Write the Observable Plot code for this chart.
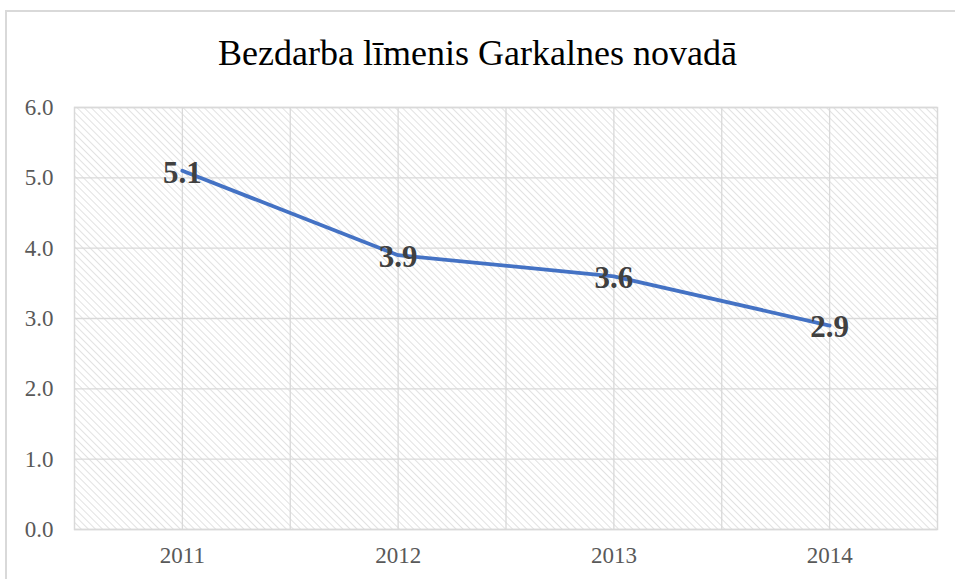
<!DOCTYPE html>
<html>
<head>
<meta charset="utf-8">
<script src="https://cdn.jsdelivr.net/npm/d3@7"></script>
<script src="https://cdn.jsdelivr.net/npm/@observablehq/plot@0.6"></script>
<style>
  html, body { margin: 0; padding: 0; background: #fff; overflow: hidden; }
  #wrap { position: relative; width: 955px; height: 579px; overflow: hidden; }
  #border { position: absolute; left: 5px; top: 10px; width: 2000px; height: 2000px;
            border-left: 2px solid #d9d9d9; border-top: 2px solid #d9d9d9; box-sizing: border-box; }
  #title { position: absolute; left: 0; top: 35px; width: 955px; text-align: center;
           font-family: "Liberation Serif", "Times New Roman", serif; font-size: 36px;
           line-height: 36px; color: #000; }
  #chart { position: absolute; left: 0; top: 95px; }
</style>
</head>
<body>
<div id="wrap">
  <div id="border"></div>
  <div id="title">Bezdarba līmenis Garkalnes novadā</div>
  <div id="chart"></div>
</div>
<script>
const years = [2011, 2012, 2013, 2014];
const rates = [5.1, 3.9, 3.6, 2.9];
const yTicks = [0, 1, 2, 3, 4, 5, 6];

const data = years.map((y, i) => ({year: y, rate: rates[i]}));
const xGrid = years.flatMap((y, i) => i < years.length - 1 ? [y, y + 0.5] : [y]);
const serif = "'Liberation Serif', 'Times New Roman', serif";

const chart = Plot.plot({
  width: 955,
  height: 484,
  marginLeft: 74,
  marginRight: 18,
  marginTop: 12,
  marginBottom: 50,
  style: {fontFamily: serif, background: "transparent"},
  x: {domain: [years[0] - 0.5, years[years.length - 1] + 0.5], label: null},
  y: {domain: [0, 6], label: null},
  marks: [
    Plot.frame({fill: "url(#hatch)", stroke: null}),
    Plot.ruleY(yTicks, {stroke: "#d9d9d9", strokeWidth: 1.3}),
    Plot.ruleX(xGrid, {stroke: "#d9d9d9", strokeWidth: 1.3}),
    Plot.frame({stroke: "#d9d9d9", strokeWidth: 1.5}),
    Plot.axisY(yTicks, {tickSize: 0, tickPadding: 21, tickFormat: d => d.toFixed(1),
      fontSize: 23, fill: "#595959", label: null}),
    Plot.axisX(years, {tickSize: 0, tickPadding: 13, dy: 4, tickFormat: d => String(d),
      fontSize: 23, fill: "#595959", label: null}),
    Plot.line(data, {x: "year", y: "rate", stroke: "#4472C4", strokeWidth: 3.8,
      strokeLinecap: "round", strokeLinejoin: "round"}),
    Plot.text(data, {x: "year", y: "rate", text: d => d.rate.toFixed(1),
      fontSize: 31, fontWeight: "bold", fill: "#404040", dy: 2, fontFamily: serif})
  ]
});

const svg = d3.select(chart);
const defs = svg.insert("defs", ":first-child");
const pat = defs.append("pattern").attr("id", "hatch").attr("patternUnits", "userSpaceOnUse")
  .attr("width", 5).attr("height", 5).attr("patternTransform", "rotate(-45)");
pat.append("rect").attr("width", 5).attr("height", 5).attr("fill", "#ffffff");
pat.append("line").attr("x1", 0).attr("y1", 0).attr("x2", 0).attr("y2", 5)
  .attr("stroke", "#d9d9d9").attr("stroke-width", 1.5);

document.getElementById("chart").appendChild(chart);
</script>
</body>
</html>
